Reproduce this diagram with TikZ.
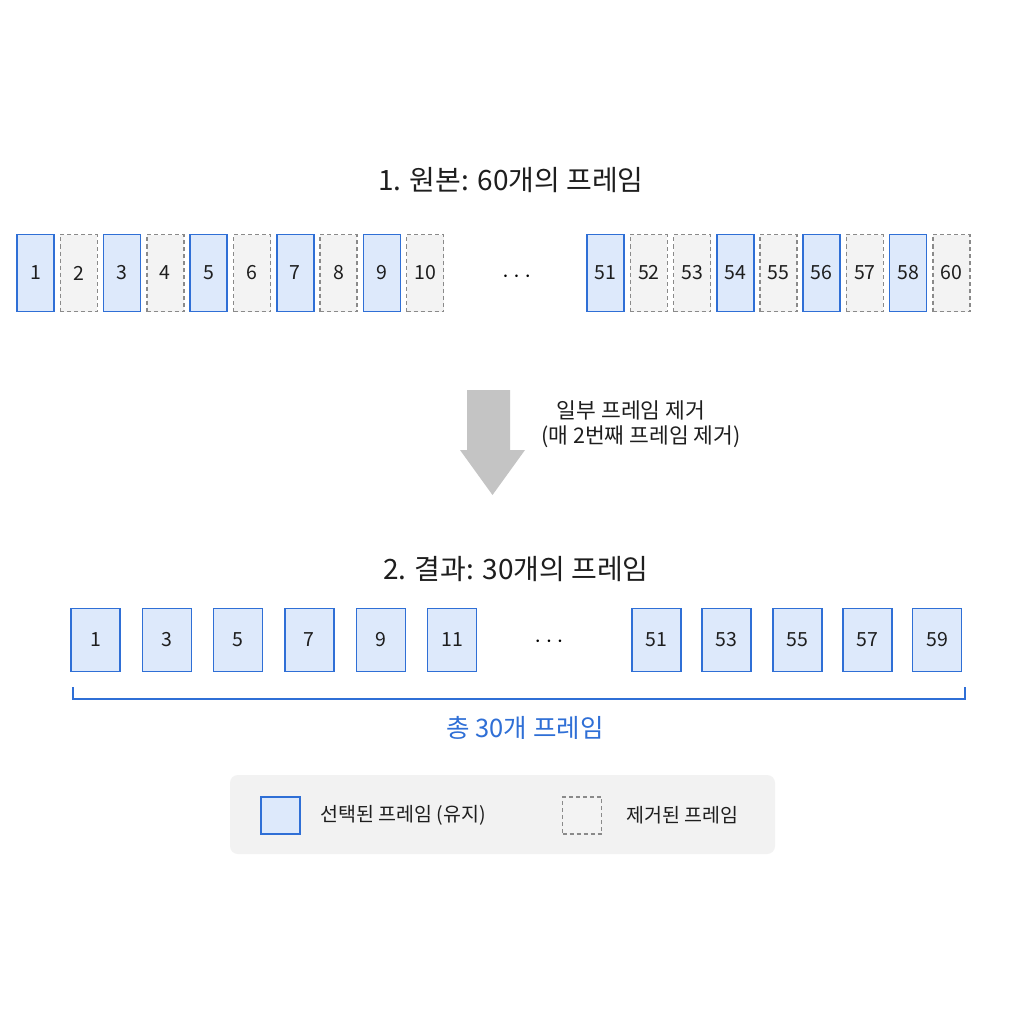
\documentclass[tikz,border=0pt]{standalone}
\usepackage{fontspec}
\setmainfont{Noto Sans CJK KR}
\usetikzlibrary{calc}
\definecolor{keepline}{HTML}{2F6FD6}
\definecolor{keepfill}{HTML}{DDE9FB}
\definecolor{dropline}{HTML}{8A8A8A}
\definecolor{dropfill}{HTML}{F3F3F3}
\definecolor{arrowgray}{HTML}{C4C4C4}
\definecolor{legendfill}{HTML}{F2F2F2}
\definecolor{ink}{HTML}{1E1E1E}
\tikzset{
	keep/.style={draw=keepline, fill=keepfill, line width=1.6pt, inner sep=0pt, minimum width=37pt, minimum height=77pt, text=ink, font=\fontsize{19.5}{19.5}\selectfont},
	drop/.style={draw=dropline, fill=dropfill, line width=1.4pt, dash pattern=on 4pt off 3pt, inner sep=0pt, minimum width=37pt, minimum height=77pt, text=ink, font=\fontsize{19.5}{19.5}\selectfont},
	kept/.style={keep, line width=1.4pt, minimum width=49pt, minimum height=63pt},
	title/.style={text=ink, font=\fontsize{28}{28}\selectfont},
	note/.style={text=ink, font=\fontsize{21.5}{21.5}\selectfont},
	dots/.style={text=black, inner sep=0pt, anchor=base, font=\fontsize{26}{26}\selectfont}
}

\begin{document}
\begin{tikzpicture}[x=1pt, y=-1pt]
				\useasboundingbox[fill=white] (0,0) rectangle (1024,1024);
				
				% 1. original frames
				\node[title] (top title) at (511,180) {1. 원본: 60개의 프레임};
				\node[keep] (t1) at (35.5,273) {1};
				\node[drop] (t2) at (78.8,273) {2};
				\node[keep] (t3) at (122.1,273) {3};
				\node[drop] (t4) at (165.4,273) {4};
				\node[keep] (t5) at (208.7,273) {5};
				\node[drop] (t6) at (252,273) {6};
				\node[keep] (t7) at (295.3,273) {7};
				\node[drop] (t8) at (338.6,273) {8};
				\node[keep] (t9) at (381.9,273) {9};
				\node[drop] (t10) at (425.2,273) {10};
				\node[dots] (top dots) at (516.7,282.2) {$\cdots$};
				\node[keep] (t51) at (605.7,273) {51};
				\node[drop] (t52) at (648.9,273) {52};
				\node[drop] (t53) at (692.1,273) {53};
				\node[keep] (t54) at (735.3,273) {54};
				\node[drop] (t55) at (778.5,273) {55};
				\node[keep] (t56) at (821.7,273) {56};
				\node[drop] (t57) at (864.9,273) {57};
				\node[keep] (t58) at (908.1,273) {58};
				\node[drop] (t60) at (951.3,273) {60};
				
				% removal arrow
				\draw[draw=none, fill=arrowgray] (467,390) -- (510,390) -- (510,450) -- (525,450) -- (492.5,495) -- (460,450) -- (467,450) -- cycle;
				\node[note] (step one) at (631,410) {일부 프레임 제거};
				\node[note] (step two) at (641,437) {(매 2번째 프레임 제거)};
				
				% 2. result frames
				\node[title] (bottom title) at (516,569) {2. 결과: 30개의 프레임};
				\node[kept] (b1) at (95.5,640) {1};
				\node[kept] (b3) at (166.8,640) {3};
				\node[kept] (b5) at (238.1,640) {5};
				\node[kept] (b7) at (309.4,640) {7};
				\node[kept] (b9) at (380.7,640) {9};
				\node[kept] (b11) at (452,640) {11};
				\node[dots] (bottom dots) at (549,647.5) {$\cdots$};
				\node[kept] (b51) at (656.5,640) {51};
				\node[kept] (b53) at (726.5,640) {53};
				\node[kept] (b55) at (797.5,640) {55};
				\node[kept] (b57) at (867.5,640) {57};
				\node[kept] (b59) at (937,640) {59};
				
				\coordinate (brace left) at (73,687);
				\coordinate (brace right) at (965,687);
				\draw[keepline, line width=1.4pt] (brace left) -- ++(0,12) -| (brace right);
				\node[title, font=\fontsize{25.5}{25.5}\selectfont, text=keepline] (total) at (525,728) {총 30개 프레임};
				
				% legend
				\draw[draw=none, fill=legendfill, rounded corners=8pt] (230,775) rectangle (775,854);
				\node[keep, minimum width=39pt, minimum height=37pt] (keep key) at (280.5,815.5) {};
				\node[note, font=\fontsize{19.5}{19.5}\selectfont, anchor=west] (keep text) at (317,815) {선택된 프레임 (유지)};
				\node[drop, minimum width=39pt, minimum height=37pt] (drop key) at (582,815.5) {};
				\node[note, font=\fontsize{19.5}{19.5}\selectfont, anchor=west] (drop text) at (623,815) {제거된 프레임};
			\end{tikzpicture}
\end{document}
